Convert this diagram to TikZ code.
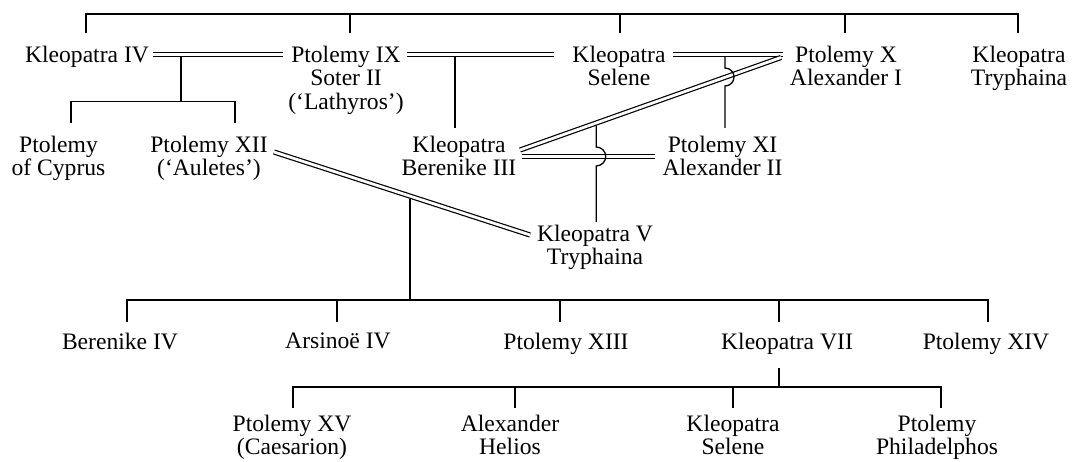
\documentclass[tikz,border=0pt]{standalone}
\usepackage{fontspec}
\setmainfont{Liberation Serif}
\usetikzlibrary{calc}
\begin{document}
\begin{tikzpicture}[x=1pt,y=-1pt,
  person/.style={anchor=north, inner sep=0pt, outer sep=0pt, align=center, font=\fontsize{23.6}{23.6}\selectfont},
  kin/.style={line width=1.3pt},
  marr/.style={double, double distance=2.8pt, line width=1.2pt}]
\fill[white] (0,0) rectangle (1072,462);
\useasboundingbox (0,0) rectangle (1072,462);

% people
\node[person] (k4) at (87,46) {Kleopatra IV};
\node[person] (p9) at (346,46) {Ptolemy IX\\Soter II\\(‘Lathyros’)};
\node[person] (ks) at (619,46) {Kleopatra\\Selene};
\node[person] (p10) at (846,46) {Ptolemy X\\Alexander I};
\node[person] (kt) at (1019,46) {Kleopatra\\Tryphaina};
\node[person] (pc) at (58.5,136) {Ptolemy\\of Cyprus};
\node[person] (p12) at (209,136) {Ptolemy XII\\(‘Auletes’)};
\node[person] (kb3) at (459,136) {Kleopatra\\Berenike III};
\node[person] (p11) at (722.5,136) {Ptolemy XI\\Alexander II};
\node[person] (k5) at (595,225) {Kleopatra V\\Tryphaina};
\node[person] (b4) at (120,333) {Berenike IV};
\node[person] (a4) at (338,333) {Arsinoë IV};
\node[person] (p13) at (566,333) {Ptolemy XIII};
\node[person] (k7) at (787,333) {Kleopatra VII};
\node[person] (p14) at (986,333) {Ptolemy XIV};
\node[person] (p15) at (292,415) {Ptolemy XV\\(Caesarion)};
\node[person] (ah) at (510,415) {Alexander\\Helios};
\node[person] (ks2) at (733,415) {Kleopatra\\Selene};
\node[person] (pp) at (937,415) {Ptolemy\\Philadelphos};

% marriages
\draw[marr] ($(k4.north east)+(4,8.5)$) -- coordinate[pos=0.215] (cA) ($(p9.north west)+(-5.3,8.5)$);
\draw[marr] ($(p9.north east)+(3.3,8.5)$) -- coordinate[pos=0.327] (cB) ($(ks.north west)+(-18.5,8.5)$);
\draw[marr] ($(ks.north east)+(7.5,8.5)$) -- coordinate[pos=0.473] (cC) ($(p10.north west)+(-7,8.5)$);
\draw[marr] ($(p10.north west)+(-9,11.5)$) -- coordinate[pos=0.708] (cD) ($(kb3.north east)+(3.7,14)$);
\draw[marr] ($(kb3.north east)+(5.7,20.5)$) -- ($(p11.north west)+(-7.5,20.5)$);
\draw[marr] ($(p12.north east)+(6.3,16)$) -- coordinate[pos=0.531] (cE) ($(k5.north west)+(-7,10)$);

% levels
\coordinate (L0) at (0,14);
\coordinate (LA) at (0,101.5);
\coordinate (L3) at (0,300);
\coordinate (L4) at (0,387);

% top generation
\coordinate (dk4) at ($(k4.north)+(-1,-13)$);
\coordinate (dp9) at ($(p9.north)+(4,-13)$);
\coordinate (dks) at ($(ks.north)+(1,-13)$);
\coordinate (dp10) at ($(p10.north)+(-1,-13)$);
\coordinate (dkt) at ($(kt.north)+(-1,-13)$);
\draw[kin] (dk4) -- (dk4 |- L0) -- (dkt |- L0) -- (dkt);
\foreach \d in {dp9,dks,dp10} \draw[kin] (\d) -- (\d |- L0);

% children of Kleopatra IV and Ptolemy IX
\coordinate (dpc) at ($(pc.north)+(12.5,-13)$);
\coordinate (dp12) at ($(p12.north)+(26,-13)$);
\draw[kin] (dpc) -- (dpc |- LA) -- (dp12 |- LA) -- (dp12);
\draw[kin] ($(cA)+(0,2.6)$) -- (cA |- LA);

% Kleopatra Berenike III
\coordinate (dkb3) at ($(kb3.north)+(-4,-8)$);
\draw[kin] ($(cB)+(0,2.6)$) -- (cB |- dkb3);

% Ptolemy XI (hop over the diagonal)
\coordinate (dp11) at ($(p11.north)+(2.5,-8)$);
\draw[kin] ($(cC)+(0,2.6)$) -- ++(0,10.9) arc[start angle=-90,end angle=90,radius=9] -- (cC |- dp11);

% Kleopatra V (hop over the horizontal)
\coordinate (dk5) at ($(k5.north)+(4,-3)$);
\draw[kin] ($(cD)+(0,2.6)$) -- ++(0,21.4) arc[start angle=-90,end angle=90,radius=9.5] -- (cD |- dk5);

% children of Ptolemy XII and Kleopatra V
\coordinate (db4) at ($(b4.north)+(7,-11)$);
\coordinate (da4) at ($(a4.north)+(-1,-11)$);
\coordinate (dp13) at ($(p13.north)+(-6,-11)$);
\coordinate (dk7) at ($(k7.north)+(-8,-11)$);
\coordinate (dp14) at ($(p14.north)+(2,-11)$);
\draw[kin] (db4) -- (db4 |- L3) -- (dp14 |- L3) -- (dp14);
\foreach \d in {da4,dp13,dk7} \draw[kin] (\d) -- (\d |- L3);
\draw[kin] ($(cE)+(0,2.6)$) -- (cE |- L3);

% children of Kleopatra VII
\coordinate (uk7) at ($(k7.south)+(-8,14)$);
\coordinate (dp15) at ($(p15.north)+(1,-7)$);
\coordinate (dah) at ($(ah.north)+(5,-7)$);
\coordinate (dks2) at ($(ks2.north)+(0,-7)$);
\coordinate (dpp) at ($(pp.north)+(4,-7)$);
\draw[kin] (uk7) -- (uk7 |- L4);
\draw[kin] (dp15) -- (dp15 |- L4) -- (dpp |- L4) -- (dpp);
\foreach \d in {dah,dks2} \draw[kin] (\d) -- (\d |- L4);
\end{tikzpicture}
\end{document}
